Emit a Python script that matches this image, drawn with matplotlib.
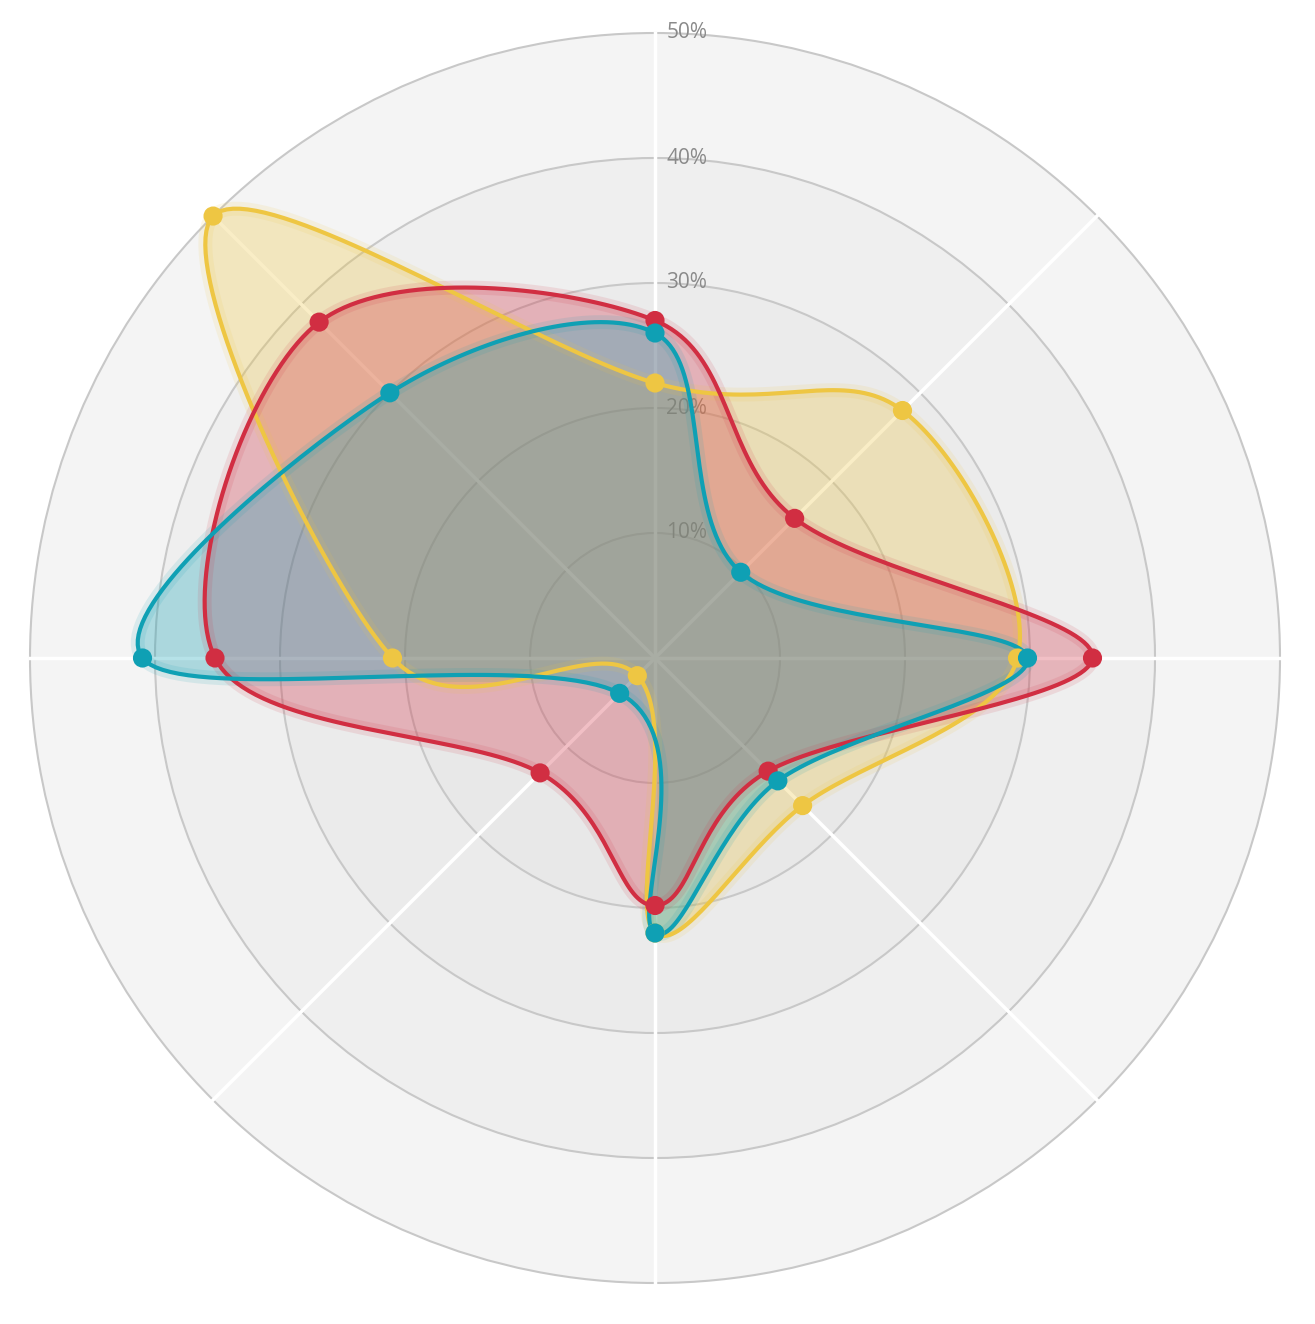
import numpy as np
import matplotlib.pyplot as plt
from matplotlib.patches import Circle

# axes clockwise from north: N, NE, E, SE, S, SW, W, NW
yellow = [22, 28, 29, 16.7, 22, 2, 21, 50]
red = [27, 15.8, 35, 12.8, 19.8, 13, 35.2, 38]
teal = [26, 9.7, 29.8, 13.9, 22, 4, 41, 30]
ticks = [10, 20, 30, 40, 50]

series = [(yellow, "#eec643"), (red, "#d12e42"), (teal, "#0fa0b4")]
angles = np.deg2rad(90 - np.arange(8) * 45)


def to_xy(vals):
    v = np.array(vals, float)
    return v * np.cos(angles), v * np.sin(angles)


def closed_spline(x, y, n=40, tension=0.5):
    # Catmull-Rom style closed curve through the points
    pts = np.column_stack([x, y])
    m = len(pts)
    out = []
    for i in range(m):
        p0, p1, p2, p3 = pts[i - 1], pts[i], pts[(i + 1) % m], pts[(i + 2) % m]
        t1 = (p2 - p0) * tension
        t2 = (p3 - p1) * tension
        s = np.linspace(0, 1, n, endpoint=False)[:, None]
        h1 = 2 * s**3 - 3 * s**2 + 1
        h2 = -2 * s**3 + 3 * s**2
        h3 = s**3 - 2 * s**2 + s
        h4 = s**3 - s**2
        out.append(h1 * p1 + h2 * p2 + h3 * t1 + h4 * t2)
    out = np.vstack(out + [pts[:1]])
    return out[:, 0], out[:, 1]


fig = plt.figure(figsize=(13.15, 13.24), dpi=100)
ax = fig.add_axes([0, 0, 1, 1])
ax.set_xlim(-52.4, 52.8)
ax.set_ylim(-53.28, 52.64)
ax.set_aspect("equal")
ax.axis("off")

band_colors = ["#f4f4f4", "#efefef", "#ebebeb", "#e8e8e8", "#e5e5e5"]
for r, c in zip(ticks[::-1], band_colors):
    ax.add_patch(Circle((0, 0), r, facecolor=c, edgecolor="#c8c8c8", lw=1.5, zorder=1))

for a in angles:
    ax.plot([0, 50 * np.cos(a)], [0, 50 * np.sin(a)], color="white", lw=2.5, zorder=2)

for t in ticks:
    ax.text(0.9, t, f"{t}%", color="#8a8a8a", fontsize=15, va="center", ha="left",
            family="Open Sans", zorder=3)

for vals, col in series:
    x, y = to_xy(vals)
    sx, sy = closed_spline(x, y)
    ax.fill(sx, sy, color=col, alpha=0.3, lw=0, zorder=4)
    ax.plot(sx, sy, color=col, lw=10, alpha=0.12, zorder=5)
    ax.plot(sx, sy, color=col, lw=3, zorder=6)
    ax.scatter(x, y, s=190, color=col, zorder=7, edgecolors="none")

fig.savefig("out.png", facecolor="white")
